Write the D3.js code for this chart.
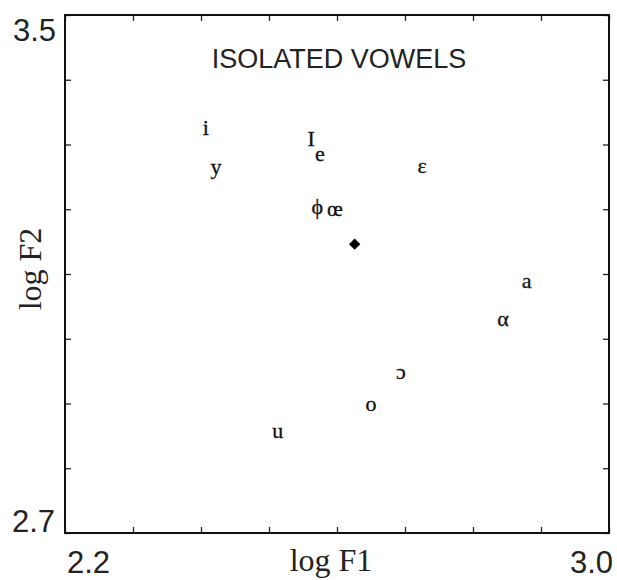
<!DOCTYPE html>
<html>
<head>
<meta charset="utf-8">
<script src="https://cdn.jsdelivr.net/npm/d3@7"></script>
<style>
  body { margin: 0; background: #fff; }
  .axis path { stroke: none; }
  .axis line { stroke: #222; stroke-width: 1.3px; }
</style>
</head>
<body>
<div id="chart"></div>
<script>
// vowel labels and their (log F1, log F2) positions
const vowels = ['i', 'y', 'I', 'e', 'ε', 'ϕ', 'œ', 'a', 'α', 'ɔ', 'o', 'u'];
const logF1 = [2.407, 2.422, 2.562, 2.575, 2.725, 2.571, 2.597, 2.879, 2.844, 2.694, 2.650, 2.513];
const logF2 = [3.327, 3.267, 3.309, 3.287, 3.268, 3.205, 3.202, 3.091, 3.032, 2.950, 2.901, 2.858];

// centroid marker
const centroid = [2.626, 3.146];

const xTicks = [2.2, 2.3, 2.4, 2.5, 2.6, 2.7, 2.8, 2.9, 3.0];
const yTicks = [2.7, 2.8, 2.9, 3.0, 3.1, 3.2, 3.3, 3.4, 3.5];

const width = 617;
const height = 580;
const margin = { top: 15, right: 8, bottom: 47, left: 65 };

const svg = d3.select('#chart')
    .append('svg')
    .attr('width', width)
    .attr('height', height);

const x = d3.scaleLinear().domain([2.2, 3.0]).range([margin.left, width - margin.right]);
const y = d3.scaleLinear().domain([2.7, 3.5]).range([height - margin.bottom, margin.top]);

// inward ticks on all four sides, no labels
svg.append('g').attr('class', 'axis')
    .attr('transform', `translate(0,${y(2.7)})`)
    .call(d3.axisBottom(x).tickValues(xTicks).tickSize(-6).tickFormat(''));
svg.append('g').attr('class', 'axis')
    .attr('transform', `translate(0,${y(3.5)})`)
    .call(d3.axisTop(x).tickValues(xTicks).tickSize(-6).tickFormat(''));
svg.append('g').attr('class', 'axis')
    .attr('transform', `translate(${x(2.2)},0)`)
    .call(d3.axisLeft(y).tickValues(yTicks).tickSize(-6).tickFormat(''));
svg.append('g').attr('class', 'axis')
    .attr('transform', `translate(${x(3.0)},0)`)
    .call(d3.axisRight(y).tickValues(yTicks).tickSize(-6).tickFormat(''));

// frame
svg.append('rect')
    .attr('x', x(2.2))
    .attr('y', y(3.5))
    .attr('width', x(3.0) - x(2.2))
    .attr('height', y(2.7) - y(3.5))
    .attr('fill', 'none')
    .attr('stroke', '#111')
    .attr('stroke-width', 2);

const sans = "'Liberation Sans', Arial, sans-serif";
const serif = "'Liberation Serif', 'Times New Roman', serif";

// endpoint tick labels
svg.append('text').attr('x', x(2.2) - 9).attr('y', y(3.5) + 26)
    .attr('text-anchor', 'end').style('font', `31px ${sans}`).attr('fill', '#222').text('3.5');
svg.append('text').attr('x', x(2.2) - 10).attr('y', y(2.7) - 1)
    .attr('text-anchor', 'end').style('font', `31px ${sans}`).attr('fill', '#222').text('2.7');
svg.append('text').attr('x', x(2.2) + 2).attr('y', y(2.7) + 40)
    .attr('text-anchor', 'start').style('font', `31px ${sans}`).attr('fill', '#222').text('2.2');
svg.append('text').attr('x', x(3.0) + 4).attr('y', y(2.7) + 40)
    .attr('text-anchor', 'end').style('font', `31px ${sans}`).attr('fill', '#222').text('3.0');

// axis titles
svg.append('text').attr('x', 331).attr('y', y(2.7) + 38)
    .attr('text-anchor', 'middle').style('font', `32px ${serif}`).attr('fill', '#222').text('log F1');
svg.append('text')
    .attr('transform', `translate(41,${y(3.1) - 5}) rotate(-90)`)
    .attr('text-anchor', 'middle').style('font', `32px ${serif}`).attr('fill', '#222').text('log F2');

// title
svg.append('text').attr('x', 339).attr('y', 68)
    .attr('text-anchor', 'middle').style('font', `27px ${sans}`).attr('fill', '#222').text('ISOLATED VOWELS');

// vowel symbols
svg.selectAll('.vowel')
    .data(vowels)
    .enter()
    .append('text')
    .attr('class', 'vowel')
    .attr('x', (d, i) => x(logF1[i]))
    .attr('y', (d, i) => y(logF2[i]))
    .attr('dy', '0.35em')
    .attr('text-anchor', 'middle')
    .style('font', `22px ${serif}`)
    .attr('fill', '#111')
    .attr('stroke', '#111')
    .attr('stroke-width', 0.3)
    .text(d => d);

// filled diamond
svg.append('path')
    .attr('d', d3.symbol().type(d3.symbolSquare).size(64))
    .attr('transform', `translate(${x(centroid[0])},${y(centroid[1])}) rotate(45)`)
    .attr('fill', '#000');
</script>
</body>
</html>
